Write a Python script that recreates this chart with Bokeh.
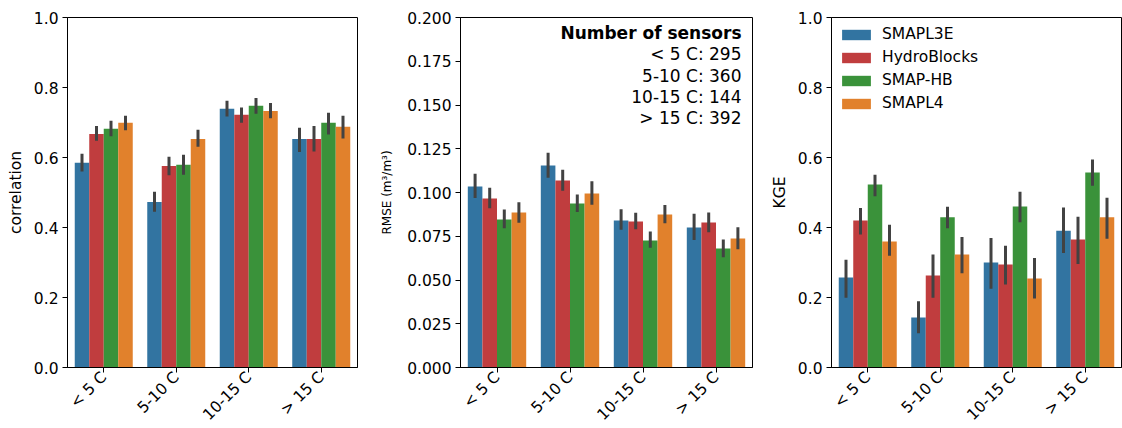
import math
from bokeh.plotting import figure
from bokeh.models import (ColumnDataSource, FactorRange, Range1d, Legend, LegendItem,
                          Label, FixedTicker, NumeralTickFormatter)
from bokeh.transform import dodge
from bokeh.layouts import row
from bokeh.embed import file_html
from bokeh.resources import INLINE

categories = ["< 5 C", "5-10 C", "10-15 C", "> 15 C"]
models = ["SMAPL3E", "HydroBlocks", "SMAP-HB", "SMAPL4"]
colors = ["#3274a1", "#c03d3e", "#3a923a", "#e1812c"]
sensor_counts = [295, 360, 144, 392]

# correlation: mean, lower, upper (per model, per temperature class)
corr_smapl3e = [0.585, 0.473, 0.739, 0.653]
corr_smapl3e_lo = [0.560, 0.445, 0.717, 0.616]
corr_smapl3e_hi = [0.611, 0.502, 0.762, 0.685]
corr_hydroblocks = [0.667, 0.576, 0.722, 0.653]
corr_hydroblocks_lo = [0.648, 0.549, 0.699, 0.617]
corr_hydroblocks_hi = [0.690, 0.602, 0.743, 0.690]
corr_smaphb = [0.682, 0.579, 0.748, 0.699]
corr_smaphb_lo = [0.661, 0.551, 0.725, 0.666]
corr_smaphb_hi = [0.705, 0.608, 0.770, 0.728]
corr_smapl4 = [0.699, 0.653, 0.733, 0.688]
corr_smapl4_lo = [0.678, 0.631, 0.712, 0.654]
corr_smapl4_hi = [0.719, 0.679, 0.756, 0.719]

# RMSE
rmse_smapl3e = [0.1034, 0.1154, 0.0840, 0.0800]
rmse_smapl3e_lo = [0.0968, 0.1084, 0.0787, 0.0728]
rmse_smapl3e_hi = [0.1107, 0.1227, 0.0905, 0.0878]
rmse_hydroblocks = [0.0966, 0.1069, 0.0834, 0.0829]
rmse_hydroblocks_lo = [0.0910, 0.1010, 0.0790, 0.0773]
rmse_hydroblocks_hi = [0.1027, 0.1130, 0.0884, 0.0886]
rmse_smaphb = [0.0846, 0.0937, 0.0726, 0.0680]
rmse_smaphb_lo = [0.0796, 0.0888, 0.0684, 0.0630]
rmse_smaphb_hi = [0.0903, 0.0989, 0.0777, 0.0731]
rmse_smapl4 = [0.0886, 0.0994, 0.0874, 0.0737]
rmse_smapl4_lo = [0.0827, 0.0930, 0.0825, 0.0676]
rmse_smapl4_hi = [0.0945, 0.1065, 0.0928, 0.0802]

# KGE
kge_smapl3e = [0.257, 0.143, 0.300, 0.391]
kge_smapl3e_lo = [0.199, 0.098, 0.225, 0.327]
kge_smapl3e_hi = [0.308, 0.189, 0.370, 0.457]
kge_hydroblocks = [0.420, 0.263, 0.294, 0.366]
kge_hydroblocks_lo = [0.380, 0.199, 0.237, 0.296]
kge_hydroblocks_hi = [0.456, 0.323, 0.348, 0.431]
kge_smaphb = [0.523, 0.429, 0.460, 0.557]
kge_smaphb_lo = [0.489, 0.398, 0.415, 0.519]
kge_smaphb_hi = [0.551, 0.459, 0.502, 0.594]
kge_smapl4 = [0.360, 0.323, 0.254, 0.429]
kge_smapl4_lo = [0.319, 0.269, 0.197, 0.368]
kge_smapl4_hi = [0.408, 0.373, 0.313, 0.485]

corr_ylim = 1.0
corr_ticks = [0.0, 0.2, 0.4, 0.6, 0.8, 1.0]
rmse_ylim = 0.2
rmse_ticks = [0.0, 0.025, 0.05, 0.075, 0.1, 0.125, 0.15, 0.175, 0.2]
kge_ylim = 1.0
kge_ticks = [0.0, 0.2, 0.4, 0.6, 0.8, 1.0]

FONT = "DejaVu Sans"
FS = "15.5px"
offsets = [-0.3, -0.1, 0.1, 0.3]


def make_panel(series, ylabel, ymax, ticks, fmt, b_left, b_right, f_width,
               ylabel_size=FS, ylabel_standoff=6):
    p = figure(x_range=FactorRange(*categories), y_range=Range1d(0, ymax),
               frame_width=f_width, frame_height=350,
               min_border_left=b_left, min_border_right=b_right,
               min_border_top=17, min_border_bottom=61,
               output_backend="svg", toolbar_location=None,
               background_fill_color="white", border_fill_color="white")
    p.grid.visible = False
    p.outline_line_color = "black"
    p.outline_line_width = 1
    renderers = []
    for (m, lo, hi), off, col in zip(series, offsets, colors):
        src = ColumnDataSource(dict(cat=categories, m=m, lo=lo, hi=hi))
        r = p.vbar(x=dodge("cat", off, range=p.x_range), top="m", width=0.2,
                   source=src, fill_color=col, line_color=None)
        renderers.append(r)
        p.segment(x0=dodge("cat", off, range=p.x_range), y0="lo",
                  x1=dodge("cat", off, range=p.x_range), y1="hi",
                  source=src, line_color="#424242", line_width=3)
    for ax in (p.xaxis[0], p.yaxis[0]):
        ax.axis_line_color = "black"
        ax.major_tick_line_color = "black"
        ax.major_tick_out = 5
        ax.major_tick_in = 0
        ax.minor_tick_line_color = None
        ax.major_label_text_font = FONT
        ax.major_label_text_font_size = FS
        ax.major_label_text_color = "black"
        ax.axis_label_text_font = FONT
        ax.axis_label_text_font_style = "normal"
        ax.axis_label_text_color = "black"
        ax.major_label_standoff = 4
    p.xaxis.major_label_standoff = 2
    p.xaxis.major_label_orientation = math.pi / 4
    p.yaxis.ticker = FixedTicker(ticks=ticks)
    p.yaxis.formatter = NumeralTickFormatter(format=fmt)
    p.yaxis.axis_label = ylabel
    p.yaxis.axis_label_text_font_size = ylabel_size
    p.yaxis.axis_label_standoff = ylabel_standoff
    return p, renderers


p1, _ = make_panel([(corr_smapl3e, corr_smapl3e_lo, corr_smapl3e_hi),
                    (corr_hydroblocks, corr_hydroblocks_lo, corr_hydroblocks_hi),
                    (corr_smaphb, corr_smaphb_lo, corr_smaphb_hi),
                    (corr_smapl4, corr_smapl4_lo, corr_smapl4_hi)],
                   "correlation", corr_ylim, corr_ticks, "0.0", 67, 10, 290)

p2, _ = make_panel([(rmse_smapl3e, rmse_smapl3e_lo, rmse_smapl3e_hi),
                    (rmse_hydroblocks, rmse_hydroblocks_lo, rmse_hydroblocks_hi),
                    (rmse_smaphb, rmse_smaphb_lo, rmse_smaphb_hi),
                    (rmse_smapl4, rmse_smapl4_lo, rmse_smapl4_hi)],
                   "RMSE (m\u00b3/m\u00b3)", rmse_ylim, rmse_ticks, "0.000", 93, 10, 292,
                   ylabel_size="12px", ylabel_standoff=10)

p3, r3 = make_panel([(kge_smapl3e, kge_smapl3e_lo, kge_smapl3e_hi),
                     (kge_hydroblocks, kge_hydroblocks_lo, kge_hydroblocks_hi),
                     (kge_smaphb, kge_smaphb_lo, kge_smaphb_hi),
                     (kge_smapl4, kge_smapl4_lo, kge_smapl4_hi)],
                    "KGE", kge_ylim, kge_ticks, "0.0", 69, 1, 290)

# annotation box in RMSE panel
lines = ["Number of sensors"] + [f"{c}: {n}" for c, n in zip(categories, sensor_counts)]
y_offs = [-15, -36, -58, -79.5, -100]
for i, (txt, yo) in enumerate(zip(lines, y_offs)):
    p2.add_layout(Label(x=len(categories), y=rmse_ylim, x_offset=-11, y_offset=yo,
                        text=txt, text_align="right", text_baseline="middle",
                        text_font=FONT, text_font_size="17px",
                        text_font_style="bold" if i == 0 else "normal",
                        text_color="black"))

legend = Legend(items=[LegendItem(label=m, renderers=[r]) for m, r in zip(models, r3)],
                location="top_left", margin=4, padding=3, spacing=3,
                label_height=20, glyph_width=36, glyph_height=13,
                label_standoff=8, label_text_font=FONT, label_text_font_size=FS,
                label_text_color="black", border_line_alpha=0,
                background_fill_alpha=0)
p3.add_layout(legend)

layout = row(p1, p2, p3)
open("out.html", "w").write(file_html(layout, INLINE))
